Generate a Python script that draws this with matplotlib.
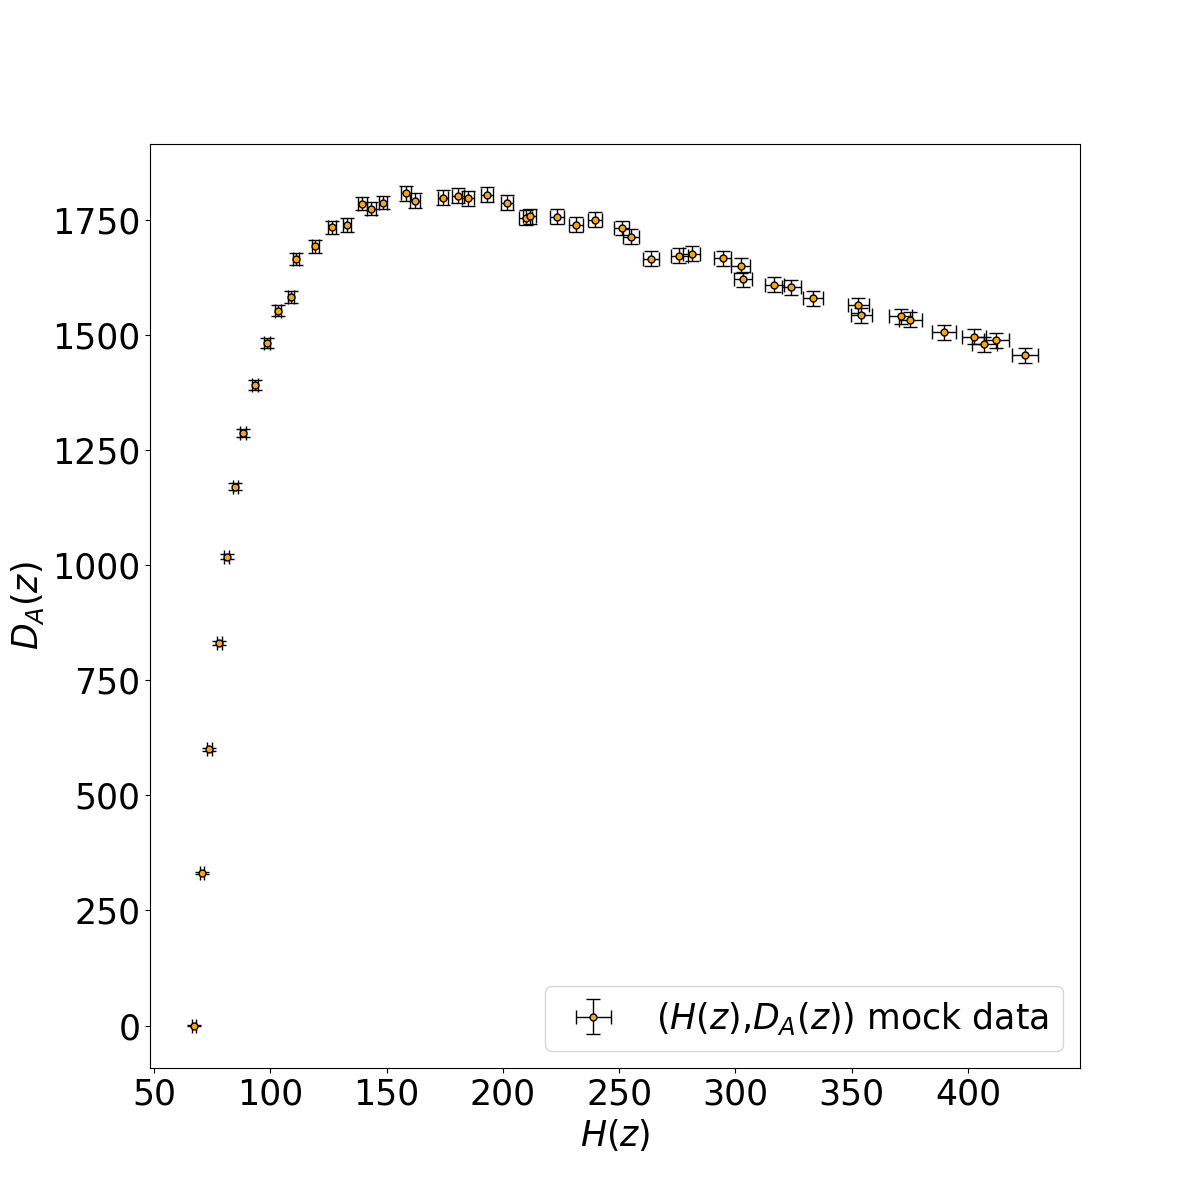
import numpy as np
import matplotlib
matplotlib.use('Agg')
import matplotlib.pyplot as plt

# mock (H(z), D_A(z)) points
H = [67.3, 70.7, 73.8, 78.1, 81.2, 84.9, 88.3, 93.4, 98.5, 103.4,
     108.9, 111.1, 119.2, 126.4, 133.1, 139.6, 143.3, 148.4, 158.3, 162.2,
     174.2, 180.7, 185.0, 193.1, 201.7, 209.9, 211.5, 223.2, 231.5, 239.5,
     251.1, 255.1, 263.6, 275.9, 281.2, 294.5, 302.2, 303.1, 316.6, 324.1,
     333.4, 352.9, 354.2, 371.0, 375.2, 389.8, 402.7, 407.0, 412.2, 424.5]
DA = [0, 331, 600, 830, 1018, 1170, 1287, 1391, 1482, 1552,
      1582, 1665, 1692, 1733, 1739, 1785, 1774, 1787, 1807, 1791,
      1798, 1802, 1796, 1804, 1787, 1754, 1757, 1756, 1739, 1750,
      1732, 1713, 1665, 1672, 1676, 1666, 1650, 1620, 1609, 1603,
      1579, 1564, 1542, 1540, 1533, 1505, 1496, 1479, 1488, 1455]
H_err = [0.9, 0.9, 1.0, 1.0, 1.1, 1.1, 1.2, 1.2, 1.3, 1.3,
         1.4, 1.4, 1.5, 1.6, 1.7, 1.8, 1.9, 1.9, 2.1, 2.1,
         2.3, 2.4, 2.4, 2.6, 2.7, 2.8, 2.8, 2.9, 3.0, 3.1,
         3.3, 3.3, 3.4, 3.6, 3.7, 3.8, 3.9, 3.9, 4.1, 4.2,
         4.3, 4.6, 4.6, 4.8, 4.9, 5.1, 5.2, 5.3, 5.4, 5.5]
DA_err = [1, 2, 3, 4, 6, 8, 9, 10, 11, 12,
          13, 13, 14, 14, 15, 15, 15, 15, 16, 16,
          16, 16, 16, 16, 16, 16, 16, 16, 16, 16,
          16, 16, 16, 16, 16, 16, 16, 16, 16, 16,
          16, 16, 16, 16, 16, 16, 16, 16, 16, 16]

plt.rcParams['font.size'] = 25

plt.figure(figsize=(12, 12), dpi=100)
plt.errorbar(H, DA, xerr=H_err, yerr=DA_err, fmt='o', color='black',
             mfc='orange', mec='black', ms=5, elinewidth=1, capsize=5,
             capthick=1, label=r'($H(z)$,$D_A(z)$) mock data')
plt.xlabel(r'$H(z)$')
plt.ylabel(r'$D_A(z)$')
plt.legend(loc='lower right')
plt.savefig('out.png', dpi=100)
